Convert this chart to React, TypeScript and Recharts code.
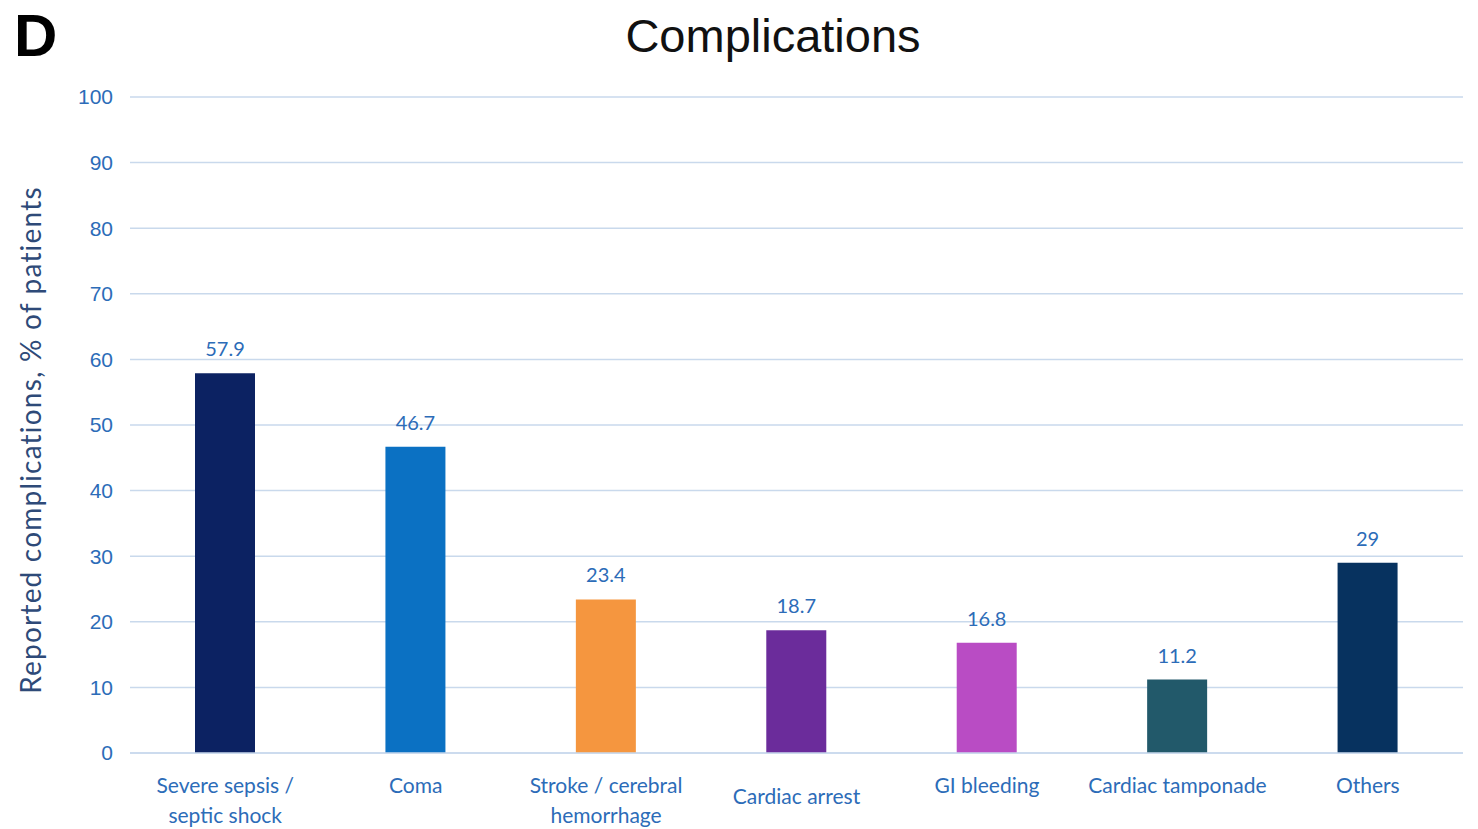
import React from 'react';
import { BarChart, Bar, XAxis, YAxis, CartesianGrid, Cell, LabelList } from 'recharts';

const categories = [
  'Severe sepsis /\nseptic shock',
  'Coma',
  'Stroke / cerebral\nhemorrhage',
  'Cardiac arrest',
  'GI bleeding',
  'Cardiac tamponade',
  'Others',
];
const percentages = [57.9, 46.7, 23.4, 18.7, 16.8, 11.2, 29];
const barColors = ['#0c2262', '#0b71c3', '#f5963f', '#6b2c9b', '#b94cc4', '#22596a', '#07325f'];
const yTicks = [0, 10, 20, 30, 40, 50, 60, 70, 80, 90, 100];

const data = categories.map((name, i) => ({ name, value: percentages[i] }));

const BLUE = '#2c6cb8';
const LABEL_FONT = 'Lato, "Open Sans", sans-serif';

// multi-line category tick; "Cardiac arrest" sits lower in the original
const CategoryTick = (props: any) => {
  const { x, y, payload } = props;
  const lines: string[] = String(payload.value).split('\n');
  const shift = payload.value === 'Cardiac arrest' ? 11 : 0;
  return (
    <g transform={`translate(${x},${y})`}>
      {lines.map((line, i) => (
        <text
          key={i}
          x={0}
          y={23 + shift + i * 30}
          textAnchor="middle"
          dominantBaseline="central"
          fill={BLUE}
          fontFamily={LABEL_FONT}
          fontSize={21}
        >
          {line}
        </text>
      ))}
    </g>
  );
};

export default function App() {
  return (
    <div style={{ position: 'absolute', left: 0, top: 0, width: 1478, height: 829, background: '#fff' }}>
      <div
        style={{
          position: 'absolute',
          left: 14,
          top: 2,
          fontFamily: '"Liberation Sans", Arial, sans-serif',
          fontWeight: 'bold',
          fontSize: 60,
          lineHeight: '68px',
          color: '#000',
        }}
      >
        D
      </div>
      <div
        style={{
          position: 'absolute',
          left: 0,
          width: 1546,
          top: 8,
          textAlign: 'center',
          fontFamily: '"Liberation Sans", Arial, sans-serif',
          fontSize: 47,
          lineHeight: '56px',
          color: '#111',
        }}
      >
        Complications
      </div>
      <BarChart
        width={1478}
        height={829}
        data={data}
        margin={{ top: 97, right: 15, bottom: 0, left: 0 }}
        barCategoryGap={0}
        style={{ position: 'absolute', left: 0, top: 0 }}
      >
        <CartesianGrid vertical={false} stroke="#c9d9ec" strokeWidth={1.5} />
        <XAxis
          dataKey="name"
          interval={0}
          axisLine={{ stroke: '#c9d9ec', strokeWidth: 1.5 }}
          tickLine={false}
          tick={<CategoryTick />}
          height={76}
        />
        <YAxis
          width={130}
          domain={[0, 100]}
          ticks={yTicks}
          axisLine={false}
          tickLine={false}
          tickMargin={11}
          tick={{ fill: BLUE, fontSize: 21, fontFamily: '"Liberation Sans", Arial, sans-serif' }}
          label={{
            content: () => (
              <text
                x={30}
                y={440}
                transform="rotate(-90 30 440)"
                textAnchor="middle"
                dominantBaseline="central"
                fill="#2e4a78"
                fontFamily={LABEL_FONT}
                fontSize={28}
                letterSpacing={1.2}
              >
                Reported complications, % of patients
              </text>
            ),
          }}
        />
        <Bar dataKey="value" barSize={60} isAnimationActive={false}>
          {data.map((d, i) => (
            <Cell key={d.name} fill={barColors[i]} />
          ))}
          <LabelList
            dataKey="value"
            position="top"
            offset={17}
            fill={BLUE}
            fontSize={20}
            fontFamily={LABEL_FONT}
          />
        </Bar>
      </BarChart>
    </div>
  );
}
